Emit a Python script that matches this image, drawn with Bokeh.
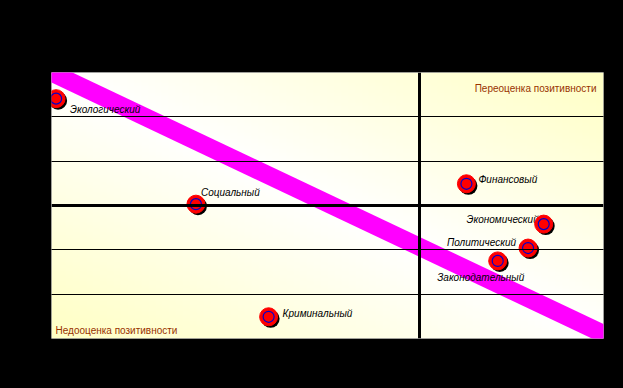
import numpy as np
from bokeh.plotting import figure
from bokeh.models import ColumnDataSource, Span, Label, FixedTicker, Range1d
from bokeh.core.properties import value
from bokeh.transform import dodge
from bokeh.embed import file_html
from bokeh.resources import INLINE

# ---- data ----
categories = ["Экологический", "Социальный", "Криминальный", "Финансовый",
              "Экономический", "Политический", "Законодательный"]
x_values = [-3.95, -2.43, -1.64, 0.51, 1.35, 1.18, 0.85]
y_values = [2.41, 0.03, -2.51, 0.49, -0.42, -0.96, -1.25]

trend_x = [-4.5, 2.5]
trend_y = [3.49, -3.39]

x_range = (-4, 2)
y_range = (-3, 3)
grid_ticks = [-2, -1, 1, 2]

label_top_right = "Переоценка позитивности"
label_bottom_left = "Недооценка позитивности"

# ---- label placement (style) ----
label_dx = [14, 5, 14, 12, -5, -12, -17]
label_dy = [11, -12, -3, -4, -5, -6, 17]
label_align = ["left", "left", "left", "left", "right", "right", "center"]

src = ColumnDataSource(dict(x=x_values, y=y_values, name=categories,
                            dx=label_dx, dy=label_dy, align=label_align))

p = figure(width=623, height=388, output_backend="svg", toolbar_location=None,
           x_range=Range1d(*x_range), y_range=Range1d(*y_range),
           min_border_left=51, min_border_right=20, min_border_top=72, min_border_bottom=50)
p.background_fill_color = "black"
p.border_fill_color = "black"
p.outline_line_color = "#808080"
p.outline_line_width = 1
p.axis.visible = False
p.xgrid.visible = False
p.yaxis.ticker = FixedTicker(ticks=grid_ticks)
p.ygrid.grid_line_color = "black"
p.ygrid.grid_line_width = 1
p.ygrid.level = "overlay"

# background gradient (white along main diagonal, pale yellow toward corners)
n = 80
sx = np.linspace(0, 1, n)[None, :]
sy = 1 - np.linspace(0, 1, n)[:, None]
t = np.abs(sx - sy)
img = np.zeros((n, n), dtype=np.uint32)
view = img.view(dtype=np.uint8).reshape((n, n, 4))
view[:, :, 0] = 255
view[:, :, 1] = 255
view[:, :, 2] = (255 - 58 * t).astype(np.uint8)
view[:, :, 3] = 255
p.image_rgba(image=[img], x=x_range[0], y=y_range[0],
             dw=x_range[1] - x_range[0], dh=y_range[1] - y_range[0])

# trend line
p.line(trend_x, trend_y, line_width=18, line_color="#FF00FF")

# labels
p.text(x="x", y="y", text="name", source=src, x_offset="dx", y_offset="dy",
       text_align="align", text_baseline="middle",
       text_font=value("Liberation Sans"), text_font_style="italic",
       text_font_size="10px", text_color="black")

# markers: shadow, red disc, blue ring
px_x = (x_range[1] - x_range[0]) / 552.0
px_y = (y_range[1] - y_range[0]) / 266.0
p.scatter(x=dodge("x", 2 * px_x), y=dodge("y", -2 * px_y), source=src,
          marker="circle", size=18, fill_color="black", line_color=None)
p.scatter(x="x", y="y", source=src, marker="circle", size=18,
          fill_color="#FF0000", line_color="#FF0000")
p.scatter(x="x", y="y", source=src, marker="circle", size=11,
          fill_color=None, line_color="#0000CC", line_width=1.2)

# thick axes lines
p.add_layout(Span(location=0, dimension="width", line_color="black", line_width=3, level="overlay"))
p.add_layout(Span(location=0, dimension="height", line_color="black", line_width=3, level="overlay"))

# corner texts
p.add_layout(Label(x=x_range[1], y=y_range[1], text=label_top_right, x_offset=-7, y_offset=-16,
                   text_align="right", text_baseline="middle", text_font="Liberation Sans",
                   text_font_size="10px", text_color="#993300"))
p.add_layout(Label(x=x_range[0], y=y_range[0], text=label_bottom_left, x_offset=4, y_offset=8,
                   text_align="left", text_baseline="middle", text_font="Liberation Sans",
                   text_font_size="10px", text_color="#993300"))

html = file_html(p, INLINE)
html = html.replace("<body>", '<body style="background:black">', 1)
html = html.replace("<html", '<html style="background:black"', 1)
open("out.html", "w").write(html)
